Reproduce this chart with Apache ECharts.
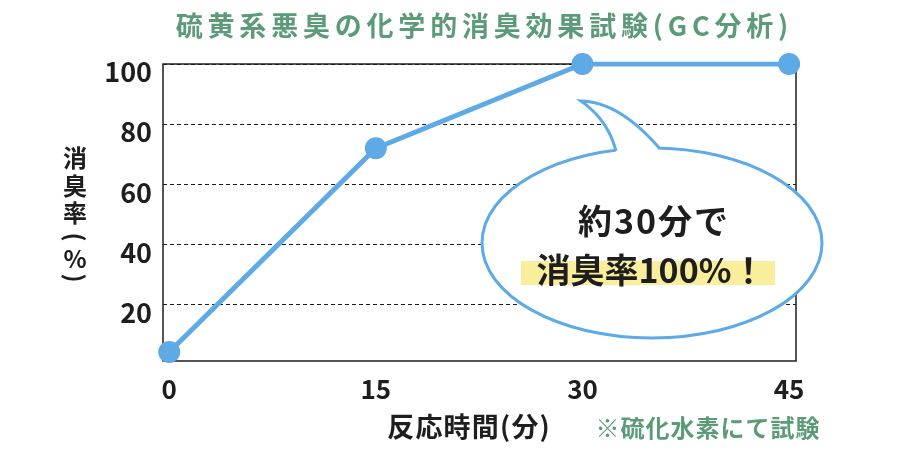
<!DOCTYPE html>
<html>
<head>
<meta charset="utf-8">
<script src="https://cdn.jsdelivr.net/npm/echarts@6/dist/echarts.min.js"></script>
<style>
html,body{margin:0;padding:0;background:#fff;}
#c{width:900px;height:450px;}
</style>
</head>
<body>
<div id="c"></div>
<script>
// ---- data ----
var titleText = '硫黄系悪臭の化学的消臭効果試験(GC分析)';
var timeMinutes = [0, 15, 30, 45];
var deodorRate = [4.3, 72, 100, 100];
var xTickLabels = [0, 15, 30, 45];
var yTickLabels = [20, 40, 60, 80, 100];
var xAxisName = '反応時間(分)';
var yAxisNameMain = ['消', '臭', '率'];
var yAxisNameUnit = ['(', '%', ')'];
var noteText = '※硫化水素にて試験';
var bubbleLine1 = '約30分で';
var bubbleLine2 = '消臭率100%！';

var FONT = '"Noto Sans CJK JP", "Noto Sans", sans-serif';
var GREEN = '#5c9b77';
var BLUE = '#5eaae6';
var DARK = '#1e1e1e';

var chart = echarts.init(document.getElementById('c'));

var seriesData = timeMinutes.map(function (t, i) { return [t, deodorRate[i]]; });

// wrap every character in a rich token so a little tracking can be added
function spaced(str, key) {
  return Array.from(str).map(function (ch) { return '{' + key + '|' + ch + '}'; }).join('');
}

// speech-bubble tail outline (quadratic curves sampled into points)
function quad(p0, c, p1, n) {
  var pts = [];
  for (var i = 0; i <= n; i++) {
    var t = i / n, u = 1 - t;
    pts.push([u * u * p0[0] + 2 * u * t * c[0] + t * t * p1[0],
              u * u * p0[1] + 2 * u * t * c[1] + t * t * p1[1]]);
  }
  return pts;
}
var tailLeft = quad([616, 151], [608, 120], [581, 101], 16);
var tailRight = quad([581, 101], [620, 102], [660, 149], 16).slice(1);
var tailStroke = tailLeft.concat(tailRight);
var tailFill = tailStroke.concat([[660, 155], [616, 157]]);

// vertical y-axis name
var yNameY = [158, 186, 213];
var yUnitY = [237, 259, 278];
var yNameEls = [];
yAxisNameMain.forEach(function (ch, i) {
  yNameEls.push({ type: 'text', x: 75, y: yNameY[i],
    style: { text: ch, align: 'center', verticalAlign: 'middle',
      fontFamily: FONT, fontSize: 24, fontWeight: 'bold', fill: DARK } });
});
yAxisNameUnit.forEach(function (ch, i) {
  yNameEls.push({ type: 'text', x: 75, y: yUnitY[i], rotation: (i === 1 ? 0 : -Math.PI / 2),
    style: { text: ch, align: 'center', verticalAlign: 'middle',
      fontFamily: FONT, fontSize: 24, fontWeight: 'bold', fill: DARK } });
});

var option = {
  backgroundColor: '#fff',
  animation: false,
  title: {
    text: spaced(titleText, 't'),
    left: 482,
    top: 12,
    padding: 0,
    textAlign: 'center',
    textStyle: {
      fontFamily: FONT, fontSize: 27, fontWeight: 'bold', color: GREEN,
      rich: { t: { fontFamily: FONT, fontSize: 27, fontWeight: 'bold', color: GREEN, padding: [0, 2.4, 0, 2.4] } }
    }
  },
  grid: {
    left: 163, right: 104, top: 64, bottom: 89,
    show: true, borderColor: DARK, borderWidth: 1.5, backgroundColor: 'transparent'
  },
  xAxis: {
    type: 'value',
    min: -0.45,
    max: 45.5,
    name: spaced(xAxisName, 'n'),
    nameLocation: 'middle',
    nameGap: 52,
    nameTextStyle: {
      fontFamily: FONT, fontSize: 27, fontWeight: 'bold', color: DARK, padding: [0, 22, 0, 0],
      rich: { n: { fontFamily: FONT, fontSize: 27, fontWeight: 'bold', color: DARK, padding: [0, 0.6, 0, 0.6] } }
    },
    axisLine: { show: false },
    axisTick: { show: false, customValues: xTickLabels },
    splitLine: { show: false },
    axisLabel: {
      customValues: xTickLabels,
      margin: 15,
      fontFamily: FONT, fontSize: 26, fontWeight: 'bold', color: DARK
    }
  },
  yAxis: {
    type: 'value',
    min: 1.3,
    max: 100,
    axisLine: { show: false },
    axisTick: { show: false, customValues: yTickLabels },
    splitLine: { show: true, lineStyle: { color: DARK, width: 1, type: [4, 3] } },
    axisLabel: {
      customValues: yTickLabels,
      margin: 11,
      verticalAlign: 'top',
      lineHeight: 16,
      fontFamily: FONT, fontSize: 27, fontWeight: 'bold', color: DARK
    }
  },
  series: [{
    type: 'line',
    data: seriesData,
    symbol: 'circle',
    symbolSize: 22,
    z: 5,
    lineStyle: { color: BLUE, width: 5 },
    itemStyle: { color: BLUE },
    label: { show: false }
  }],
  graphic: [
    { type: 'group', children: yNameEls },
    {
      type: 'ellipse', z: 10,
      shape: { cx: 652, cy: 243, rx: 170, ry: 95 },
      style: { fill: '#fff', stroke: BLUE, lineWidth: 3 }
    },
    {
      type: 'polygon', z: 11,
      shape: { points: tailFill },
      style: { fill: '#fff', stroke: null, lineWidth: 0 }
    },
    {
      type: 'polyline', z: 12,
      shape: { points: tailStroke },
      style: { fill: null, stroke: BLUE, lineWidth: 3, lineJoin: 'miter' }
    },
    {
      type: 'rect', z: 13,
      shape: { x: 521, y: 261, width: 254, height: 24 },
      style: { fill: '#f9ee9b' }
    },
    {
      type: 'text', z: 14, x: 653, y: 221,
      style: { text: spaced(bubbleLine1, 'b'), align: 'center', verticalAlign: 'middle',
        fontFamily: FONT, fontSize: 34, fontWeight: 'bold', fill: DARK,
        rich: { b: { fontFamily: FONT, fontSize: 34, fontWeight: 'bold', fill: DARK, padding: [0, 1, 0, 1] } } }
    },
    {
      type: 'text', z: 14, x: 651, y: 270,
      style: { text: bubbleLine2, align: 'center', verticalAlign: 'middle',
        fontFamily: FONT, fontSize: 34, fontWeight: 'bold', fill: DARK }
    },
    {
      type: 'text', z: 14, x: 595, y: 428,
      style: { text: spaced(noteText, 'm'), align: 'left', verticalAlign: 'middle',
        fontFamily: FONT, fontSize: 24, fontWeight: 'bold', fill: GREEN,
        rich: { m: { fontFamily: FONT, fontSize: 24, fontWeight: 'bold', fill: GREEN, padding: [0, 0.5, 0, 0.5] } } }
    }
  ]
};
chart.setOption(option);
</script>
</body>
</html>
